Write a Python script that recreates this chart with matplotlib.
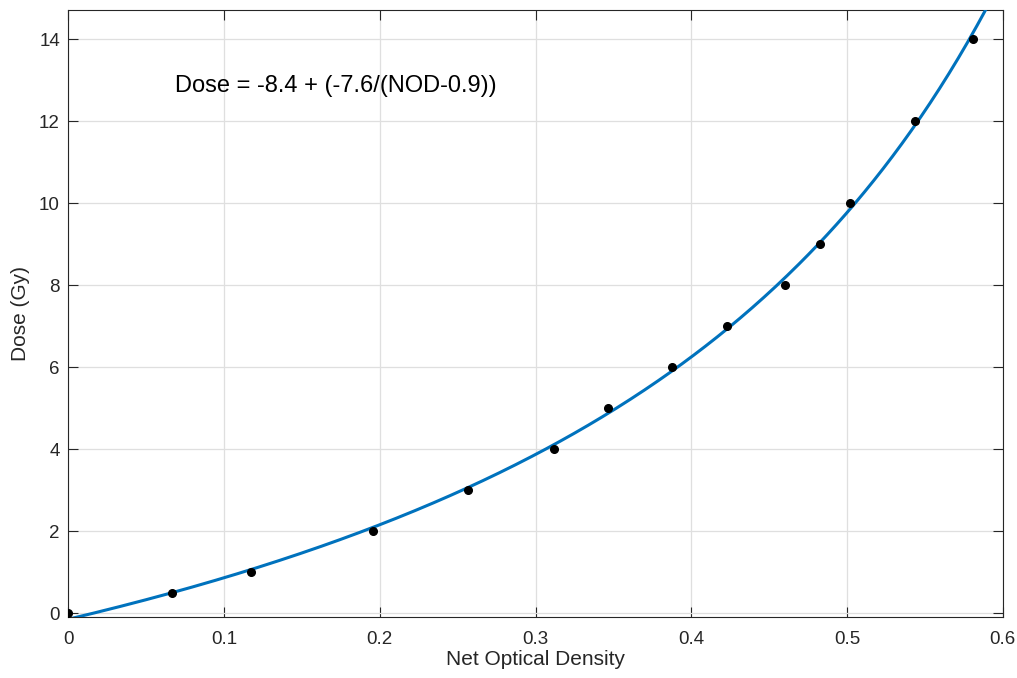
import numpy as np
import matplotlib.pyplot as plt

plt.rcParams['font.family'] = ['Liberation Sans', 'DejaVu Sans']

# measured net optical density vs delivered dose
nod = [0.0, 0.0664, 0.1171, 0.1957, 0.2564, 0.3120, 0.3466, 0.3877,
       0.4229, 0.4603, 0.4828, 0.5020, 0.5440, 0.5808]
dose = [0, 0.5, 1, 2, 3, 4, 5, 6, 7, 8, 9, 10, 12, 14]

# fitted calibration: Dose = a + b/(NOD - c)
fit_a, fit_b, fit_c = -8.4, -7.56, 0.916
eq_text = 'Dose = -8.4 + (-7.6/(NOD-0.9))'

xf = np.linspace(0, 0.6, 400)
yf = fit_a + fit_b / (xf - fit_c)

fig = plt.figure(figsize=(10.17, 6.78), dpi=100)
ax = fig.add_axes([68.3/1017, 1 - 617.3/678, (1002.7-68.3)/1017, (617.3-9.5)/678])

ax.plot(xf, yf, color='#0072BD', lw=2.2, zorder=3)
ax.plot(nod, dose, 'o', color='black', ms=5.5, zorder=4)

ax.set_xlim(0, 0.6)
ax.set_ylim(-0.1, 14.73)
ax.set_xticks(np.arange(0, 0.61, 0.1))
ax.set_xticklabels(['0', '0.1', '0.2', '0.3', '0.4', '0.5', '0.6'])
ax.set_yticks(np.arange(0, 15, 2))

ax.grid(True, color='#DFDFDF', lw=0.9)
ax.set_axisbelow(True)
for s in ax.spines.values():
    s.set_color('#262626')
    s.set_linewidth(0.8)
ax.tick_params(direction='in', top=True, right=True, length=7, width=0.8,
               color='#262626', labelcolor='#262626', labelsize=13.5)
ax.tick_params(axis='x', pad=10)
ax.tick_params(axis='y', pad=6)

ax.set_xlabel('Net Optical Density', fontsize=15, color='#262626', labelpad=1)
ax.set_ylabel('Dose (Gy)', fontsize=15, color='#262626', labelpad=6.5)

ax.text(0.0685, 12.72, eq_text, fontsize=17, color='black', va='baseline', ha='left')

fig.savefig('out.png', dpi=100)
